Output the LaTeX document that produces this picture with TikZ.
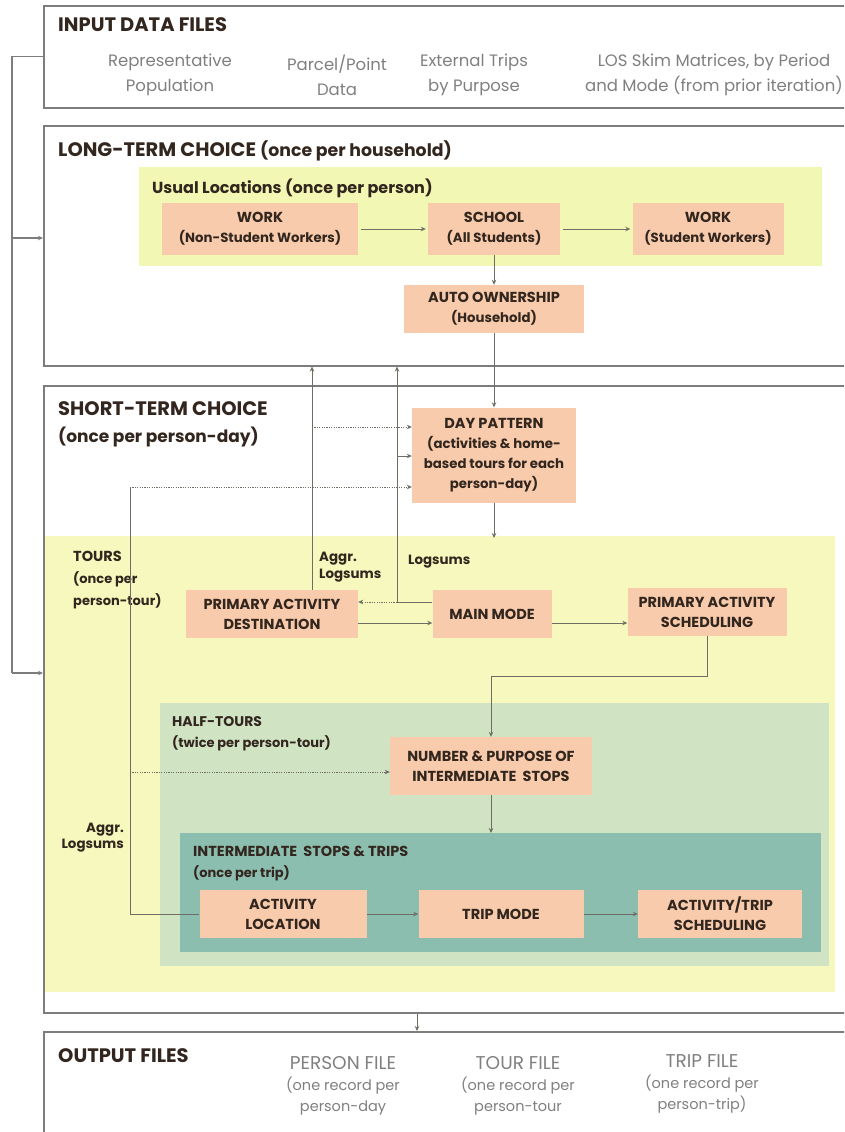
\documentclass[tikz,border=0pt]{standalone}
\usepackage{fontspec}
\setmainfont{Poppins}
\usetikzlibrary{arrows.meta}

\definecolor{frame}{RGB}{125,125,125}
\definecolor{wire}{RGB}{110,110,100}
\definecolor{salmon}{RGB}{247,203,172}
\definecolor{usualyel}{RGB}{243,247,180}
\definecolor{touryel}{RGB}{246,248,190}
\definecolor{halfgreen}{RGB}{208,228,196}
\definecolor{stopteal}{RGB}{140,190,176}
\definecolor{ink}{RGB}{50,38,30}
\definecolor{filegray}{RGB}{128,128,128}

% caps line inside a choice box
\newcommand{\capline}{\fontsize{14.5}{20}\selectfont}
% caps heading of an output file
\newcommand{\filehead}{\fontsize{18.5}{21}\selectfont}

\begin{document}
\begin{tikzpicture}[x=1pt,y=-1pt,
  secbox/.style={draw=frame, line width=1.6pt, rectangle, anchor=north west, inner sep=0pt},
  region/.style={rectangle, anchor=north west, inner sep=0pt, draw=none},
  choicebox/.style={fill=salmon, text=ink, rectangle, inner sep=0pt, align=center,
    font=\bfseries\fontsize{13.3}{20}\selectfont},
  ttl/.style={anchor=base west, inner sep=0pt, text=ink, font=\bfseries\fontsize{19.5}{24}\selectfont},
  sub/.style={inner sep=0pt, text=ink, align=left, font=\bfseries\fontsize{13}{21}\selectfont},
  filetxt/.style={inner sep=0pt, text=filegray, align=center, font=\fontsize{16.5}{25}\selectfont},
  outtxt/.style={inner sep=0pt, text=filegray, align=center, font=\fontsize{14.5}{21}\selectfont},
  wireline/.style={draw=wire, line width=0.9pt},
  feedline/.style={draw=frame, line width=1.4pt},
  dotline/.style={draw=wire, line width=0.8pt, dash pattern=on 1.2pt off 1.2pt},
  arr/.style={-{Stealth[length=5pt,width=4.5pt]}},
]
\clip (0,0) rectangle (844,1132);
\fill[white] (0,0) rectangle (844,1132);

% ---- section frames ----
\node[secbox, minimum width=810, minimum height=102] (input) at (43,5) {};
\node[secbox, minimum width=810, minimum height=240] (longterm) at (43,125) {};
\node[secbox, minimum width=810, minimum height=627] (shortterm) at (43,385) {};
\node[secbox, minimum width=810, minimum height=120] (output) at (43,1031) {};

% ---- coloured nesting regions ----
\node[region, fill=usualyel, minimum width=683, minimum height=99] (usual) at (139,167) {};
\node[region, fill=touryel, minimum width=790, minimum height=456] (tours) at (45,536) {};
\node[region, fill=halfgreen, minimum width=669, minimum height=263] (half) at (160,703) {};
\node[region, fill=stopteal, minimum width=641, minimum height=119] (stops) at (180,833) {};

% ---- section titles ----
\node[ttl] (inputttl) at (58,32) {INPUT DATA FILES};
\node[ttl] (ltttl) at (58,156) {LONG-TERM CHOICE {\fontsize{17.3}{24}\selectfont(once per household)}};
\node[ttl] (stttl) at (58,415) {SHORT-TERM CHOICE};
\node[ttl, font=\bfseries\fontsize{17}{24}\selectfont] (stsub) at (58,442) {(once per person-day)};
\node[ttl] (outttl) at (58,1062) {OUTPUT FILES};

% ---- input files ----
\node[filetxt] (fpop) at (170,75) {Representative\\Population};
\node[filetxt] (fparcel) at (337,75) {Parcel/Point\\Data};
\node[filetxt] (fext) at (474,75) {External Trips\\by Purpose};
\node[filetxt] (fskim) at (714,75) {LOS Skim Matrices, by Period\\and Mode (from prior iteration)};

% ---- long-term choice ----
\node[sub, anchor=base west, font=\bfseries\fontsize{16}{20}\selectfont] (usualttl) at (152,193) {Usual Locations (once per person)};
\node[choicebox, minimum width=196, minimum height=52] (work1) at (260,229) {{\capline WORK}\\(Non-Student Workers)};
\node[choicebox, minimum width=132, minimum height=52] (school) at (494,229) {{\capline SCHOOL}\\(All Students)};
\node[choicebox, minimum width=151, minimum height=52] (work2) at (708,229) {{\capline WORK}\\(Student Workers)};
\node[choicebox, minimum width=180, minimum height=48] (auto) at (494,309) {{\capline AUTO OWNERSHIP}\\(Household)};

% ---- short-term choice ----
\node[choicebox, minimum width=164, minimum height=95] (day) at (494,455)
  {{\capline DAY PATTERN}\\(activities \& home-\\based tours for each\\person-day)};

\node[sub, anchor=west, font=\bfseries\fontsize{13}{22}\selectfont] (tourslbl) at (73,580) {{\fontsize{14.5}{22}\selectfont TOURS}\\(once per\\person-tour)};
\node[sub, anchor=west, font=\bfseries\fontsize{13.4}{17}\selectfont] (aggA) at (319,567) {Aggr.\\Logsums};
\node[sub, anchor=west, font=\bfseries\fontsize{13.4}{17}\selectfont] (lsA) at (408,562) {Logsums};
\node[sub, anchor=east, align=right, font=\bfseries\fontsize{13.4}{16}\selectfont] (aggB) at (124,838) {Aggr.\\Logsums};

\node[choicebox, minimum width=172, minimum height=48, font=\bfseries\capline] (pad) at (272,614) {PRIMARY ACTIVITY\\DESTINATION};
\node[choicebox, minimum width=119, minimum height=48, font=\bfseries\capline] (mm) at (492,614) {MAIN MODE};
\node[choicebox, minimum width=159, minimum height=48, font=\bfseries\capline] (pas) at (707,612) {PRIMARY ACTIVITY\\SCHEDULING};

\node[sub, anchor=west] (halflbl) at (172,734) {{\fontsize{14}{22}\selectfont HALF-TOURS}\\(twice per person-tour)};
\node[choicebox, minimum width=202, minimum height=58, font=\bfseries\capline] (nps) at (491,766) {NUMBER \& PURPOSE OF\\INTERMEDIATE\ \ STOPS};

\node[sub, anchor=west] (stopslbl) at (193,864) {{\fontsize{14.5}{22}\selectfont INTERMEDIATE\ \ STOPS \& TRIPS}\\(once per trip)};
\node[choicebox, minimum width=167, minimum height=48, font=\bfseries\capline] (actloc) at (283,914) {ACTIVITY\\LOCATION};
\node[choicebox, minimum width=165, minimum height=48, font=\bfseries\capline] (tripmode) at (501,914) {TRIP MODE};
\node[choicebox, minimum width=164, minimum height=48, font=\bfseries\capline] (ats) at (720,914) {ACTIVITY/TRIP\\SCHEDULING};

% ---- output files ----
\node[outtxt] (operson) at (343,1086) {{\filehead PERSON FILE}\\(one record per\\person-day};
\node[outtxt] (otour) at (518,1086) {{\filehead TOUR FILE}\\(one record per\\person-tour};
\node[outtxt] (otrip) at (702,1084) {{\filehead TRIP FILE}\\(one record per\\person-trip)};

% ---- feedback of input data ----
\coordinate (fbmid) at (12,238);
\coordinate (fbbot) at (12,673);
\draw[feedline] (input.west) -| (fbbot);
\draw[feedline, arr] (fbmid) -- (fbmid -| longterm.west);
\draw[feedline, arr] (fbbot) -- (fbbot -| shortterm.west);

% ---- long-term flow ----
\draw[wireline, arr, shorten <=3pt, shorten >=2pt] (work1) -- (school);
\draw[wireline, arr, shorten <=3pt, shorten >=2pt] (school) -- (work2);
\draw[wireline, arr] (school) -- (auto);
\draw[wireline, arr] (auto) -- (day);
\coordinate (toursin) at (494,538);
\draw[wireline, arr] (day.south) -- (toursin);

% ---- logsums fed back upward ----
\coordinate (aggx) at (312,0);
\coordinate (lsx) at (397,0);
\coordinate (dpa) at (312,427);
\coordinate (dpb) at (397,456);
\coordinate (mmtap) at (397,602);
\draw[wireline, arr] (pad.north -| aggx) -- (aggx |- longterm.south);
\draw[dotline, arr] (dpa) -- (dpa -| day.west);
\draw[wireline] (mm.west |- mmtap) -- (mmtap);
\draw[dotline, arr] (mmtap) -- (mmtap -| pad.east);
\draw[wireline, arr] (mmtap) -- (lsx |- longterm.south);
\draw[wireline, arr] (dpb) -- (dpb -| day.west);

% ---- tour-level flow ----
\coordinate (flowy) at (0,623);
\draw[wireline, arr] (pad.east |- flowy) -- (mm.west |- flowy);
\draw[wireline, arr] (mm.east |- flowy) -- (pas.west |- flowy);
\draw[wireline, arr] (pas.south) -- ++(0,40) -| (nps.north);
\draw[wireline, arr] (nps.south) -- (nps.south |- stops.north);

% ---- stop-level flow and aggregate logsums ----
\coordinate (alx) at (130,487);
\coordinate (npsa) at (130,772);
\draw[wireline] (actloc.west) -| (alx);
\draw[dotline, arr] (alx) -- (alx -| day.west);
\draw[dotline, arr] (npsa) -- (npsa -| nps.west);
\draw[wireline, arr] (actloc) -- (tripmode);
\draw[wireline, arr] (tripmode) -- (ats);

% ---- to output ----
\coordinate (outx) at (417,0);
\draw[wireline, arr] (outx |- shortterm.south) -- (outx |- output.north);
\end{tikzpicture}
\end{document}
